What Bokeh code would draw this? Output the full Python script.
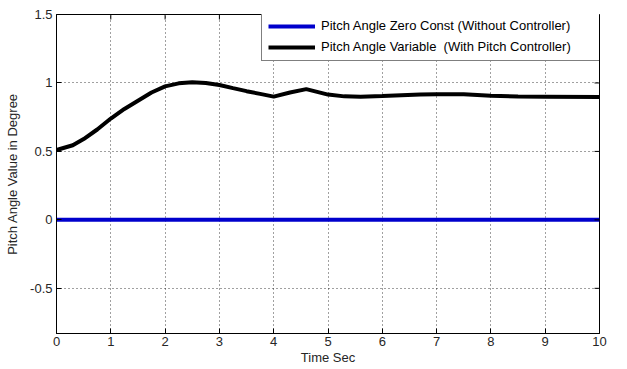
import math
from bokeh.plotting import figure
from bokeh.models import (FixedTicker, Legend, LegendItem, Range1d,
                          PrintfTickFormatter)
from bokeh.embed import file_html
from bokeh.resources import INLINE

# ---- data ----
time_s = [0.0, 0.3, 0.5, 0.75, 1.0, 1.25, 1.5, 1.75, 2.0, 2.25, 2.5, 2.75, 3.0,
          3.25, 3.5, 3.75, 4.0, 4.3, 4.6, 4.8, 5.0, 5.3, 5.6, 6.0, 6.7, 7.0,
          7.5, 8.0, 8.5, 9.0, 10.0]
pitch_variable = [0.51, 0.545, 0.59, 0.66, 0.74, 0.81, 0.87, 0.93, 0.975, 0.997,
                  1.005, 1.0, 0.985, 0.962, 0.94, 0.92, 0.90, 0.93, 0.955, 0.935,
                  0.915, 0.902, 0.90, 0.905, 0.915, 0.918, 0.918, 0.907, 0.901,
                  0.90, 0.897]
time_zero = [0.0, 10.0]
pitch_zero = [0.0, 0.0]

x_ticks = [0, 1, 2, 3, 4, 5, 6, 7, 8, 9, 10]
y_ticks = [-0.5, 0, 0.5, 1, 1.5]
x_limits = (0, 10)
y_limits = (-0.83, 1.5)

label_zero = "Pitch Angle Zero Const (Without Controller)"
label_var = "Pitch Angle Variable  (With Pitch Controller)"
x_label = "Time Sec"
y_label = "Pitch Angle Value in Degree"

FONT = "Liberation Sans"
FS = "13px"

p = figure(frame_width=543, frame_height=319,
           x_range=Range1d(*x_limits), y_range=Range1d(*y_limits),
           output_backend="svg", toolbar_location=None,
           min_border_left=56, min_border_right=28,
           min_border_top=14, min_border_bottom=36)
p.background_fill_color = "white"
p.border_fill_color = "white"
p.outline_line_color = "black"

# grid
for g, ticks in ((p.xgrid, x_ticks), (p.ygrid, y_ticks)):
    g.ticker = FixedTicker(ticks=ticks)
    g.grid_line_color = "black"
    g.grid_line_alpha = 0.75
    g.grid_line_dash = "1 3"
    g.grid_line_width = 1

r_zero = p.line(time_zero, pitch_zero, line_color="#0000cc", line_width=4)
r_var = p.line(time_s, pitch_variable, line_color="black", line_width=4)

# inward tick marks on the top and right edges (box on)
p.ray(x=x_ticks, y=[y_limits[1]] * len(x_ticks), length=5,
      length_units="screen", angle=-math.pi / 2, line_color="black", line_width=1)
p.ray(x=[x_limits[1]] * len(y_ticks), y=y_ticks, length=5,
      length_units="screen", angle=math.pi, line_color="black", line_width=1)


def style_axis(ax, ticks):
    ax.ticker = FixedTicker(ticks=ticks)
    ax.major_tick_in = 5
    ax.major_tick_out = 0
    ax.minor_tick_in = 0
    ax.minor_tick_out = 0
    ax.axis_line_color = "black"
    ax.major_tick_line_color = "black"
    ax.major_label_text_font = FONT
    ax.major_label_text_font_size = FS
    ax.major_label_text_color = "#262626"
    ax.axis_label_text_font = FONT
    ax.axis_label_text_font_size = FS
    ax.axis_label_text_font_style = "normal"
    ax.axis_label_text_color = "#262626"


xa = p.xaxis[0]
ya = p.yaxis[0]
style_axis(xa, x_ticks)
style_axis(ya, y_ticks)
xa.axis_label = x_label
ya.axis_label = y_label
xa.major_label_standoff = 3
xa.axis_label_standoff = 1
ya.major_label_standoff = 4
ya.axis_label_standoff = 7
ya.formatter = PrintfTickFormatter(format="%g")

legend = Legend(items=[LegendItem(label=label_zero, renderers=[r_zero]),
                       LegendItem(label=label_var, renderers=[r_var])],
                location=(205, 272))
legend.label_text_font = FONT
legend.label_text_font_size = FS
legend.label_text_color = "black"
legend.glyph_width = 47
legend.glyph_height = 12
legend.label_height = 12
legend.label_width = 310
legend.label_standoff = 6
legend.spacing = 6
legend.padding = 6
legend.margin = 0
legend.border_line_color = "black"
legend.border_line_width = 1
legend.background_fill_color = "white"
legend.background_fill_alpha = 1.0
p.add_layout(legend)

open("out.html", "w").write(file_html(p, INLINE))
